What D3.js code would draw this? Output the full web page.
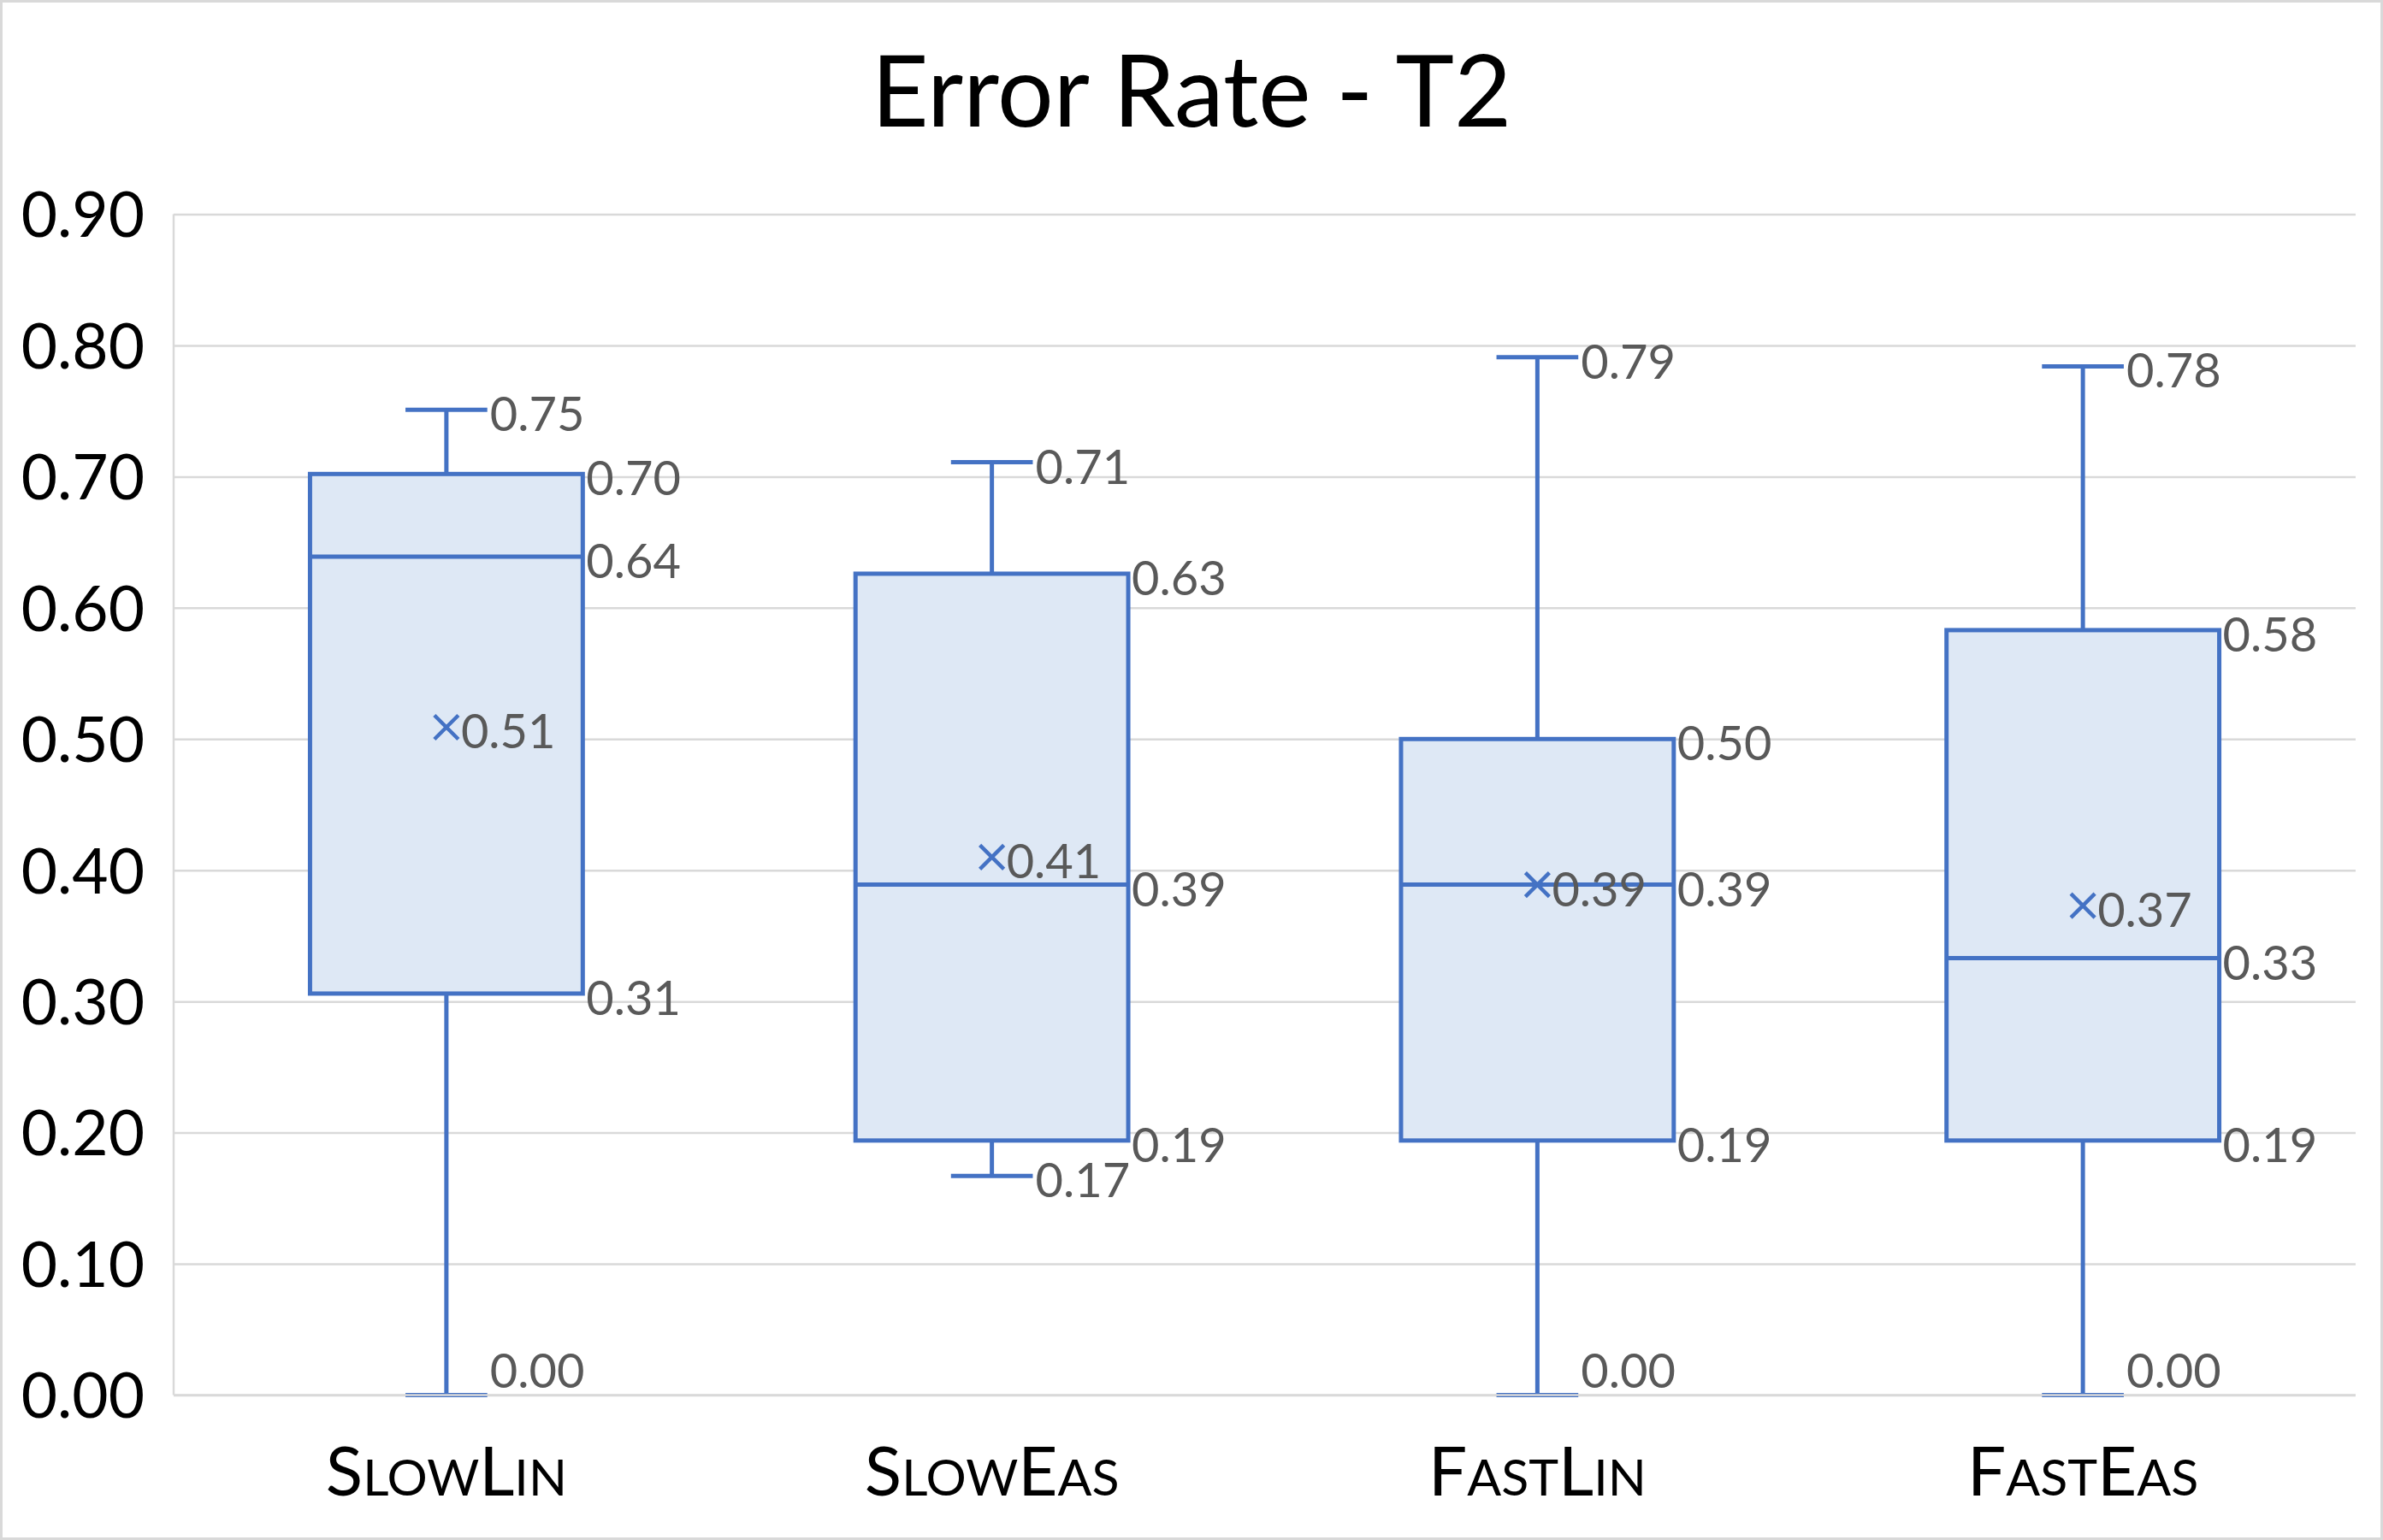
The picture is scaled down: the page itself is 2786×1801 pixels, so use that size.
<!DOCTYPE html>
<meta charset="utf-8">
<style>
    body { margin: 0; background: #fff; }
    svg text { font-family: "Lato", "Open Sans", sans-serif; }
    .grid line { stroke: #d9d9d9; stroke-width: 2.5; }
    .box { fill: #dee8f5; stroke: #4472c4; stroke-width: 5; }
    .whisker { stroke: #4472c4; stroke-width: 5; fill: none; }
    .mean { stroke: #4472c4; stroke-width: 4.5; }
    .dlabel { font-size: 56px; fill: #595959; }
</style>
<body>
<script src="https://d3js.org/d3.v7.min.js"></script>
<script>
    // Data
    var categories = ["SlowLin", "SlowEas", "FastLin", "FastEas"];
    var mins    = [0.000, 0.167, 0.000, 0.000];
    var q1s     = [0.306, 0.194, 0.194, 0.194];
    var medians = [0.639, 0.389, 0.389, 0.333];
    var q3s     = [0.702, 0.626, 0.500, 0.583];
    var maxs    = [0.751, 0.711, 0.791, 0.784];
    var means   = [0.509, 0.410, 0.389, 0.373];
    var yTicks  = [0, 0.1, 0.2, 0.3, 0.4, 0.5, 0.6, 0.7, 0.8, 0.9];
    var title = "Error Rate - T2";

    var W = 2786, H = 1801;
    var margin = {top: 250.5, right: 32, bottom: 169.5, left: 203};
    var width = W - margin.left - margin.right,
        height = H - margin.top - margin.bottom;

    var svg = d3.select("body").append("svg")
        .attr("width", W)
        .attr("height", H);

    // chart border
    svg.append("rect")
        .attr("x", 1.5).attr("y", 1.5)
        .attr("width", W - 3).attr("height", H - 3)
        .attr("fill", "#fff")
        .attr("stroke", "#d9d9d9")
        .attr("stroke-width", 3);

    svg.append("text")
        .attr("x", W / 2)
        .attr("y", 148)
        .attr("text-anchor", "middle")
        .attr("font-size", 116)
        .attr("fill", "#000")
        .text(title);

    var g = svg.append("g")
        .attr("transform", "translate(" + margin.left + "," + margin.top + ")");

    var x = d3.scaleBand().domain(categories).range([0, width]).paddingInner(0).paddingOuter(0);
    var y = d3.scaleLinear().domain([0, 0.9]).range([height, 0]);

    // gridlines
    g.append("g")
        .attr("class", "grid")
        .call(d3.axisLeft(y).tickValues(yTicks).tickSize(-width).tickFormat(""))
        .call(s => s.select(".domain").remove());

    // vertical axis line
    g.append("line")
        .attr("x1", 0).attr("x2", 0)
        .attr("y1", y(0.9)).attr("y2", y(0))
        .attr("stroke", "#d9d9d9")
        .attr("stroke-width", 2.5);

    // y tick labels
    g.append("g")
        .call(d3.axisLeft(y).tickValues(yTicks).tickSize(0).tickPadding(34).tickFormat(d3.format(".2f")))
        .call(s => s.select(".domain").remove())
        .call(s => s.selectAll("text")
            .attr("font-size", 73)
            .attr("fill", "#000")
            .attr("dy", "0.36em")
            .style("font-family", "Lato, sans-serif"));

    var data = categories.map(function (c, i) {
        return {cat: c, min: mins[i], q1: q1s[i], med: medians[i], q3: q3s[i], max: maxs[i], mean: means[i]};
    });

    var boxW = x.bandwidth() * 0.5;
    var capW = boxW * 0.3;
    var fmt = d3.format(".2f");

    var series = g.selectAll(".series")
        .data(data)
        .enter().append("g")
        .attr("transform", d => "translate(" + (x(d.cat) + x.bandwidth() / 2) + ",0)");

    // whiskers
    series.append("line").attr("class", "whisker")
        .attr("x1", 0).attr("x2", 0)
        .attr("y1", d => y(d.max)).attr("y2", d => y(d.q3));
    series.append("line").attr("class", "whisker")
        .attr("x1", 0).attr("x2", 0)
        .attr("y1", d => y(d.q1)).attr("y2", d => y(d.min));
    series.append("line").attr("class", "whisker")
        .attr("x1", -capW / 2).attr("x2", capW / 2)
        .attr("y1", d => y(d.max)).attr("y2", d => y(d.max));
    series.append("line").attr("class", "whisker")
        .attr("x1", -capW / 2).attr("x2", capW / 2)
        .attr("y1", d => y(d.min)).attr("y2", d => y(d.min));

    // boxes
    series.append("rect").attr("class", "box")
        .attr("x", -boxW / 2)
        .attr("width", boxW)
        .attr("y", d => y(d.q3))
        .attr("height", d => y(d.q1) - y(d.q3));
    series.append("line").attr("class", "whisker")
        .attr("x1", -boxW / 2).attr("x2", boxW / 2)
        .attr("y1", d => y(d.med)).attr("y2", d => y(d.med));

    // mean markers (x)
    var m = 14;
    series.append("path").attr("class", "mean")
        .attr("d", d => "M" + (-m) + "," + (y(d.mean) - m) + "L" + m + "," + (y(d.mean) + m) +
            "M" + (-m) + "," + (y(d.mean) + m) + "L" + m + "," + (y(d.mean) - m));

    // data labels
    function labelY(v) {
        return Math.min(y(v) + 25, height - 9);
    }
    series.each(function (d) {
        var s = d3.select(this);
        var items = [
            {v: d.max, dx: capW / 2 + 3},
            {v: d.min, dx: capW / 2 + 3},
            {v: d.q3, dx: boxW / 2 + 4},
            {v: d.med, dx: boxW / 2 + 4},
            {v: d.q1, dx: boxW / 2 + 4},
            {v: d.mean, dx: m + 3}
        ];
        s.selectAll(".dlabel")
            .data(items)
            .enter().append("text")
            .attr("class", "dlabel")
            .attr("x", e => e.dx)
            .attr("y", e => labelY(e.v))
            .text(e => fmt(e.v));
    });

    // horizontal axis line drawn on top
    g.append("line")
        .attr("x1", 0).attr("x2", width)
        .attr("y1", y(0)).attr("y2", y(0))
        .attr("stroke", "#d9d9d9")
        .attr("stroke-width", 2.5);

    // category labels in small caps
    var big = 80, small = 59;
    var cat = g.selectAll(".cat")
        .data(categories)
        .enter().append("text")
        .attr("class", "cat")
        .attr("x", d => x(d) + x.bandwidth() / 2)
        .attr("y", 1749 - margin.top)
        .attr("text-anchor", "middle")
        .attr("fill", "#000");
    cat.each(function (d) {
        var t = d3.select(this);
        d.split("").forEach(function (ch) {
            var up = ch === ch.toUpperCase();
            t.append("tspan")
                .attr("font-size", up ? big : small)
                .text(ch.toUpperCase());
        });
    });
</script>
</body>
